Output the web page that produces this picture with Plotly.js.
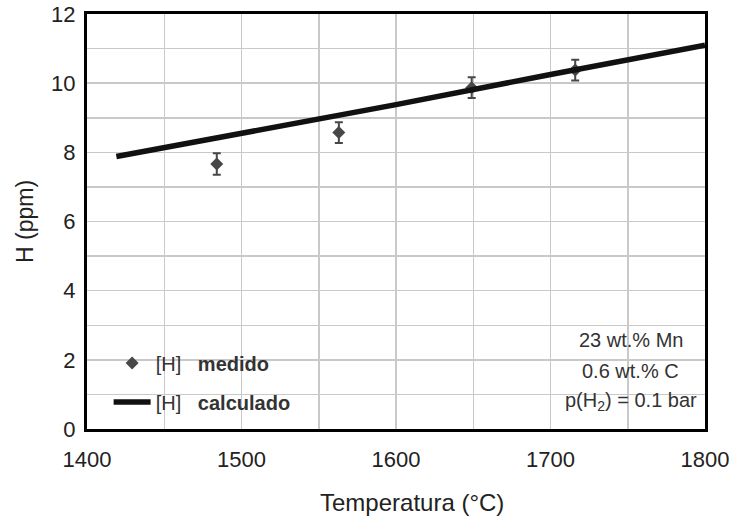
<!DOCTYPE html>
<html>
<head>
<meta charset="utf-8">
<script src="https://cdn.plot.ly/plotly-3.0.1.min.js"></script>
<style>html,body{margin:0;padding:0;background:#fff;}#chart{width:738px;height:519px;}</style>
</head>
<body>
<div id="chart"></div>
<script>
// Measured [H]
var measT = [1484, 1563, 1649, 1716];
var measH = [7.66, 8.57, 9.87, 10.38];
var measErr = [0.31, 0.3, 0.3, 0.3];
// Calculated [H]
var calcT = [1419, 1500, 1600, 1700, 1800];
var calcH = [7.88, 8.55, 9.38, 10.25, 11.1];
// Conditions note
var noteLines = ['23 wt.% Mn', '0.6 wt.% C', 'p(H<sub>2</sub>) = 0.1 bar'];
var xTitle = 'Temperatura (°C)';
var yTitle = 'H (ppm)';

var NB = '\u00a0';
var traces = [
  {
    x: measT, y: measH, type: 'scatter', mode: 'markers',
    name: '[H]' + NB + NB + NB + '<b>medido</b>',
    legendgroup: 'a',
    marker: {symbol: 'diamond', size: 10, color: '#474747'},
    error_y: {type: 'data', array: measErr, visible: true, color: '#474747', thickness: 2, width: 4}
  },
  {
    x: calcT, y: calcH, type: 'scatter', mode: 'lines',
    name: '[H]' + NB + NB + NB + '<b>calculado</b>',
    legendgroup: 'b',
    line: {color: '#111', width: 5.5}
  }
];

var noteY = [0.215, 0.14, 0.066];
var annotations = noteLines.map(function (t, i) {
  return {
    xref: 'paper', yref: 'paper', x: 0.88, y: noteY[i], xanchor: 'center', yanchor: 'middle',
    text: t, showarrow: false, font: {size: 20, color: '#333'}
  };
});
annotations.push({
  xref: 'paper', yref: 'paper', x: 0.526, y: -0.178, xanchor: 'center', yanchor: 'middle',
  text: xTitle, showarrow: false, font: {size: 24, color: '#222'}
});

var layout = {
  width: 738, height: 519,
  margin: {l: 87, r: 33, t: 14, b: 90},
  paper_bgcolor: '#fff', plot_bgcolor: '#fff',
  font: {family: 'Liberation Sans, Arial, sans-serif', color: '#222'},
  showlegend: true,
  legend: {
    x: 0.035, y: 0.018, xanchor: 'left', yanchor: 'bottom',
    bgcolor: 'rgba(0,0,0,0)', borderwidth: 0,
    font: {size: 20, color: '#333'},
    traceorder: 'grouped', tracegroupgap: 10,
    itemwidth: 37
  },
  xaxis: {
    range: [1400, 1800], dtick: 100, tick0: 1400,
    showgrid: true, gridcolor: '#c9c9c9', gridwidth: 1.5,
    minor: {dtick: 50, showgrid: true, gridcolor: '#c9c9c9', gridwidth: 1.5, ticks: 'inside', ticklen: 5, tickcolor: '#c9c9c9'},
    showline: true, linecolor: '#000', linewidth: 3, mirror: true,
    ticks: '', zeroline: false, ticklabelstandoff: 9,
    tickfont: {size: 22, color: '#222'}
  },
  yaxis: {
    range: [0, 12], dtick: 2, tick0: 0,
    showgrid: true, gridcolor: '#c9c9c9', gridwidth: 1.5,
    minor: {dtick: 1, showgrid: true, gridcolor: '#c9c9c9', gridwidth: 1.5, ticks: 'inside', ticklen: 5, tickcolor: '#c9c9c9'},
    showline: true, linecolor: '#000', linewidth: 3, mirror: true,
    ticks: '', zeroline: false, ticklabelstandoff: 4,
    tickfont: {size: 22, color: '#222'},
    title: {text: yTitle, font: {size: 23, color: '#222'}, standoff: 12}
  },
  shapes: [
    {type: 'rect', xref: 'paper', yref: 'paper', x0: 0.004, x1: 0.35, y0: 0.004, y1: 0.219, layer: 'between', fillcolor: '#fff', line: {width: 0}},
    {type: 'rect', xref: 'paper', yref: 'paper', x0: 0.35, x1: 0.385, y0: 0.004, y1: 0.125, layer: 'between', fillcolor: '#fff', line: {width: 0}},
    {type: 'rect', xref: 'paper', yref: 'paper', x0: 0.765, x1: 0.996, y0: 0.004, y1: 0.258, layer: 'between', fillcolor: '#fff', line: {width: 0}}
  ],
  annotations: annotations
};

Plotly.newPlot('chart', traces, layout, {displayModeBar: false, staticPlot: true});
</script>
</body>
</html>
